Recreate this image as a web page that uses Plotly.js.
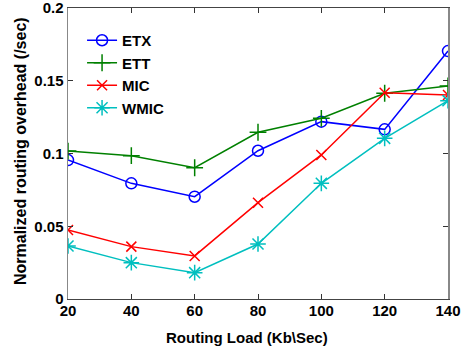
<!DOCTYPE html>
<html>
<head>
<meta charset="utf-8">
<script src="https://cdn.plot.ly/plotly-3.0.1.min.js"></script>
<style>html,body{margin:0;padding:0;background:#fff;}#chart{width:464px;height:350px;}</style>
</head>
<body>
<div id="chart"></div>
<script>
const routingLoad = [20, 40, 60, 80, 100, 120, 140];
const etx  = [0.0955, 0.0795, 0.0703, 0.1019, 0.1219, 0.1166, 0.1704];
const ett  = [0.1017, 0.0985, 0.0902, 0.1146, 0.1242, 0.1414, 0.1464];
const mic  = [0.0474, 0.0360, 0.0296, 0.0662, 0.0990, 0.1418, 0.1402];
const wmic = [0.0364, 0.0250, 0.0181, 0.0378, 0.0795, 0.1104, 0.1363];
const xTicks = [20, 40, 60, 80, 100, 120, 140];
const yTicks = [0, 0.05, 0.1, 0.15, 0.2];
const yTickText = ['0', '0.05', '0.1', '0.15', '0.2'];
const xTitle = 'Routing Load (Kb\\Sec)';
const yTitle = 'Normalized routing overhead (/sec)';

const traces = [
  {name: 'ETX', x: routingLoad, y: etx, color: '#0000ff', symbol: 'circle-open', size: 11},
  {name: 'ETT', x: routingLoad, y: ett, color: '#008000', symbol: 'cross-thin-open', size: 12},
  {name: 'MIC', x: routingLoad, y: mic, color: '#ff0000', symbol: 'x-thin-open', size: 10},
  {name: 'WMIC', x: routingLoad, y: wmic, color: '#00bfbf', symbol: 'asterisk-open', size: 13}
].map(t => ({
  type: 'scatter', mode: 'lines+markers', name: t.name, x: t.x, y: t.y,
  line: {color: t.color, width: 1.5},
  marker: {symbol: t.symbol, size: t.size, color: t.color, line: {color: t.color, width: 1.5}}
}));

const layout = {
  width: 464, height: 350,
  margin: {l: 68, r: 16, t: 8, b: 51},
  paper_bgcolor: '#fff', plot_bgcolor: '#fff',
  font: {family: 'Liberation Sans, Arial, sans-serif', size: 15, color: '#000', weight: 'bold'},
  showlegend: true,
  legend: {x: 0.037, y: 0.945, xanchor: 'left', yanchor: 'top', bgcolor: 'rgba(255,255,255,0)',
           borderwidth: 0, itemwidth: 30, font: {size: 15, weight: 'bold'}},
  xaxis: {
    range: [20, 140], tickvals: xTicks, ticks: 'inside', ticklen: 5, tickcolor: '#333',
    showline: true, linecolor: '#444', linewidth: 1, mirror: 'ticks', showgrid: false, zeroline: false,
    tickfont: {size: 15, weight: 'bold'}, ticklabeloverflow: 'allow', ticklabelstandoff: -2
  },
  yaxis: {
    range: [0, 0.2], tickvals: yTicks, ticktext: yTickText, ticks: 'inside', ticklen: 5, tickcolor: '#333',
    showline: true, linecolor: '#888', linewidth: 1.5, mirror: 'ticks', showgrid: false, zeroline: false,
    tickfont: {size: 15, weight: 'bold'}, ticklabeloverflow: 'allow'
  },
  annotations: [
    {text: xTitle, xref: 'paper', yref: 'paper', x: (247 - 68) / 380, y: -(337 - 299) / 291,
     xanchor: 'center', yanchor: 'middle', showarrow: false, font: {size: 15, weight: 'bold'}},
    {text: yTitle, xref: 'paper', yref: 'paper', x: -(68 - 20) / 380, y: 1 - (151 - 8) / 291,
     xanchor: 'center', yanchor: 'middle', textangle: -90, showarrow: false, font: {size: 16, weight: 'bold'}}
  ]
};

Plotly.newPlot('chart', traces, layout, {displayModeBar: false, staticPlot: true});
</script>
</body>
</html>
